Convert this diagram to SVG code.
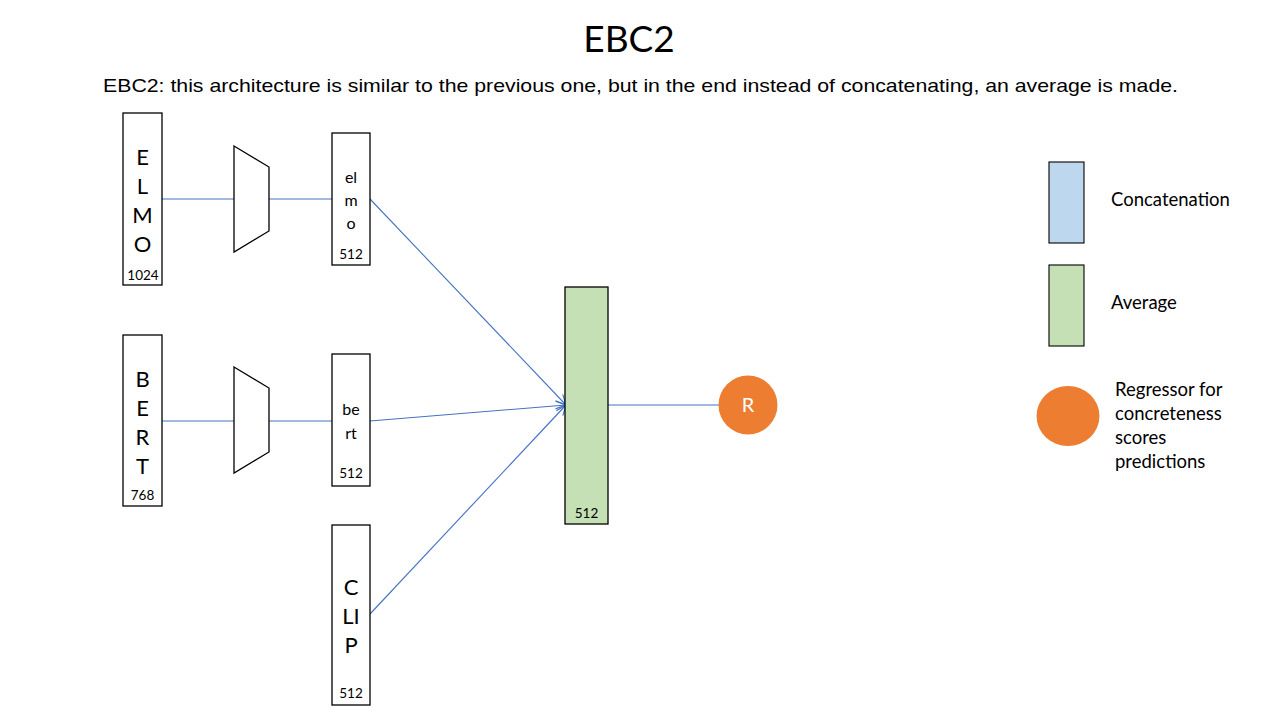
<svg xmlns="http://www.w3.org/2000/svg" width="1280" height="720" viewBox="0 0 1280 720">
<defs>
<style>
.box{fill:#fff;stroke:#000;stroke-width:1.3}
.big{font-family:Lato,"Open Sans",sans-serif;font-size:22px;fill:#000;text-anchor:middle}
.mid{font-family:Lato,"Open Sans",sans-serif;font-size:16px;fill:#000;text-anchor:middle}
.sm{font-family:Lato,"Open Sans",sans-serif;font-size:13.5px;fill:#000;text-anchor:middle}
.leg{font-family:Lato,"Open Sans",sans-serif;font-size:18.5px;fill:#000}
.con{fill:none;stroke:#4472C4;stroke-width:1.1}
</style>
<marker id="arr" viewBox="0 0 12 12" refX="11" refY="6" markerWidth="12" markerHeight="12" markerUnits="userSpaceOnUse" orient="auto">
<path d="M1,1 L11,6 L1,11" fill="none" stroke="#4472C4" stroke-width="1.1"/>
</marker>
</defs>
<rect width="1280" height="720" fill="#fff"/>
<text x="629" y="52" font-family="Lato,'Open Sans',sans-serif" font-size="37" text-anchor="middle">EBC2</text>
<text x="103" y="92" font-family="'Liberation Sans',Arial,sans-serif" font-size="19" textLength="1075" lengthAdjust="spacingAndGlyphs">EBC2: this architecture is similar to the previous one, but in the end instead of concatenating, an average is made.</text>
<g id="connectors">
<line class="con" x1="162" y1="199" x2="234" y2="199"/>
<line class="con" x1="269" y1="199" x2="332" y2="199"/>
<line class="con" x1="162" y1="421" x2="234" y2="421"/>
<line class="con" x1="269" y1="421" x2="332" y2="421"/>
<line class="con" x1="370" y1="199" x2="566" y2="405" marker-end="url(#arr)"/>
<line class="con" x1="370" y1="421" x2="566" y2="405" marker-end="url(#arr)"/>
<line class="con" x1="370" y1="614" x2="566" y2="405" marker-end="url(#arr)"/>
<line class="con" x1="608" y1="405" x2="719" y2="405"/>
</g>
<g id="elmo-in">
<rect class="box" x="123" y="113" width="39" height="172"/>
<text class="big" x="142.5" y="165">E</text>
<text class="big" x="142.5" y="194">L</text>
<text class="big" x="142.5" y="223">M</text>
<text class="big" x="142.5" y="252">O</text>
<text class="sm" x="143" y="280">1024</text>
</g>
<g id="trap1"><polygon class="box" points="234,146 269,167 269,231 234,252"/></g>
<g id="elmo">
<rect class="box" x="332" y="133" width="38" height="132"/>
<text class="mid" x="351" y="183">el</text>
<text class="mid" x="351" y="206">m</text>
<text class="mid" x="351" y="229">o</text>
<text class="sm" x="351" y="259">512</text>
</g>
<g id="bert-in">
<rect class="box" x="123" y="335" width="39" height="171"/>
<text class="big" x="142.5" y="387">B</text>
<text class="big" x="142.5" y="416">E</text>
<text class="big" x="142.5" y="445">R</text>
<text class="big" x="142.5" y="474">T</text>
<text class="sm" x="142.5" y="500">768</text>
</g>
<g id="trap2"><polygon class="box" points="234,367 269,388 269,452 234,473"/></g>
<g id="bert">
<rect class="box" x="332" y="354" width="38" height="132"/>
<text class="mid" x="351" y="415">be</text>
<text class="mid" x="351" y="439">rt</text>
<text class="sm" x="351" y="478">512</text>
</g>
<g id="clip">
<rect class="box" x="332" y="525" width="38" height="180"/>
<text class="big" x="351" y="595">C</text>
<text class="big" x="351" y="624">LI</text>
<text class="big" x="351" y="653">P</text>
<text class="sm" x="351" y="698">512</text>
</g>
<g id="average">
<rect x="565" y="287" width="43" height="237" fill="#C5E0B4" stroke="#000" stroke-width="1.3"/>
<text class="sm" x="586.5" y="518">512</text>
</g>
<g id="regressor">
<circle cx="748" cy="405" r="29.5" fill="#ED7D31"/>
<text x="748" y="412" font-family="Lato,'Open Sans',sans-serif" font-size="20" fill="#fff" text-anchor="middle">R</text>
</g>
<g id="legend-concat">
<rect x="1049" y="162" width="35" height="81" fill="#BDD7EE" stroke="#000" stroke-width="1.1"/>
<text class="leg" x="1111" y="206">Concatenation</text>
</g>
<g id="legend-average">
<rect x="1049" y="265" width="35" height="81" fill="#C5E0B4" stroke="#000" stroke-width="1.1"/>
<text class="leg" x="1111" y="309">Average</text>
</g>
<g id="legend-regressor">
<ellipse cx="1068" cy="416" rx="31.5" ry="30" fill="#ED7D31"/>
<text class="leg" x="1115" y="396">Regressor for</text>
<text class="leg" x="1115" y="420">concreteness</text>
<text class="leg" x="1115" y="444">scores</text>
<text class="leg" x="1115" y="468">predictions</text>
</g>
</svg>
